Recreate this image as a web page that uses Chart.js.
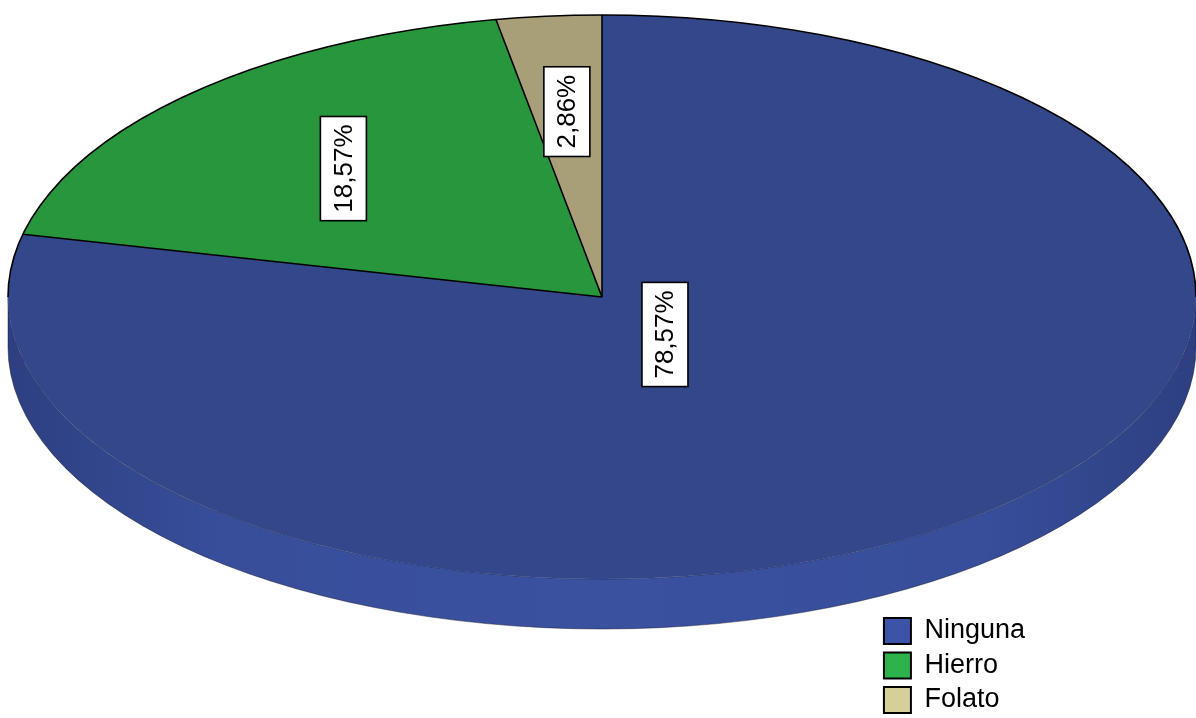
<!DOCTYPE html>
<html>
<head>
<meta charset="utf-8">
<script src="https://cdn.jsdelivr.net/npm/chart.js@4.4.1/dist/chart.umd.min.js"></script>
<style>
  html, body { margin: 0; padding: 0; background: #fff; }
  #wrap { width: 1196px; height: 718px; }
</style>
</head>
<body>
<div id="wrap"><canvas id="chart"></canvas></div>
<script>
const categories = ['Ninguna', 'Hierro', 'Folato'];
const counts = [55, 13, 2];

const topColors = ['#33478a', '#27963c', '#a89f79'];
const sideColors = ['#3a51a0', '#2aa545', '#bab08a'];
const legendColors = ['#3c54a8', '#2db34b', '#d5d09a'];

// where the flattened pie sits on the page
const PIE = { cx: 602, cy: 297, rx: 594, ry: 282, depth: 50 };
// how far out from the centre each percentage box sits (fraction of radius)
const labelRadius = [0.17, 0.63, 0.66];

const total = counts.reduce((a, b) => a + b, 0);
const percentLabels = counts.map(v => (v / total * 100).toFixed(2).replace('.', ',') + '%');

Chart.defaults.font.family = '"Liberation Sans", Arial, sans-serif';

function ellPoint(a, dy) {
    return [PIE.cx + PIE.rx * Math.cos(a), PIE.cy + (dy || 0) + PIE.ry * Math.sin(a)];
}

const pie3d = {
    id: 'pie3d',
    beforeDatasetsDraw(chart) {
        const ctx = chart.ctx;
        const meta = chart.getDatasetMeta(0);

        // side wall, only the front half (0..PI) is visible
        ctx.save();
        meta.data.forEach((arc, i) => {
            const { startAngle, endAngle } = arc.getProps(['startAngle', 'endAngle'], true);
            [-2 * Math.PI, 0, 2 * Math.PI].forEach(k => {
                const a0 = Math.max(startAngle + k, 0);
                const a1 = Math.min(endAngle + k, Math.PI);
                if (a1 <= a0) return;
                ctx.beginPath();
                ctx.ellipse(PIE.cx, PIE.cy + PIE.depth, PIE.rx, PIE.ry, 0, a0, a1);
                ctx.ellipse(PIE.cx, PIE.cy, PIE.rx, PIE.ry, 0, a1, a0, true);
                ctx.closePath();
                ctx.fillStyle = sideColors[i];
                ctx.fill();
            });
        });
        // darken the wall towards both ends
        const g = ctx.createLinearGradient(PIE.cx - PIE.rx, 0, PIE.cx + PIE.rx, 0);
        g.addColorStop(0, 'rgba(0,0,20,0.22)');
        g.addColorStop(0.18, 'rgba(0,0,20,0.04)');
        g.addColorStop(0.5, 'rgba(0,0,20,0)');
        g.addColorStop(0.82, 'rgba(0,0,20,0.04)');
        g.addColorStop(1, 'rgba(0,0,20,0.22)');
        ctx.beginPath();
        ctx.ellipse(PIE.cx, PIE.cy + PIE.depth, PIE.rx, PIE.ry, 0, 0, Math.PI);
        ctx.ellipse(PIE.cx, PIE.cy, PIE.rx, PIE.ry, 0, Math.PI, 0, true);
        ctx.closePath();
        ctx.fillStyle = g;
        ctx.fill();
        ctx.strokeStyle = 'rgba(20,20,40,0.45)';
        ctx.lineWidth = 1;
        ctx.stroke();
        ctx.restore();

        // squash the library's round pie into the top ellipse
        const { x, y, outerRadius } = meta.data[0].getProps(['x', 'y', 'outerRadius'], true);
        ctx.save();
        ctx.translate(PIE.cx, PIE.cy);
        ctx.scale(PIE.rx / outerRadius, PIE.ry / outerRadius);
        ctx.translate(-x, -y);
    },
    afterDatasetsDraw(chart) {
        const ctx = chart.ctx;
        ctx.restore();
        const meta = chart.getDatasetMeta(0);

        ctx.save();
        ctx.strokeStyle = '#000';
        ctx.lineWidth = 1.6;
        ctx.beginPath();
        ctx.ellipse(PIE.cx, PIE.cy, PIE.rx, PIE.ry, 0, Math.PI, 2 * Math.PI);
        ctx.stroke();

        meta.data.forEach(arc => {
            const { startAngle } = arc.getProps(['startAngle'], true);
            const p = ellPoint(startAngle);
            ctx.beginPath();
            ctx.moveTo(PIE.cx, PIE.cy);
            ctx.lineTo(p[0], p[1]);
            ctx.stroke();
        });

        // rotated percentage boxes
        ctx.font = '26px "Liberation Sans", Arial, sans-serif';
        ctx.textAlign = 'center';
        ctx.textBaseline = 'middle';
        meta.data.forEach((arc, i) => {
            const { startAngle, endAngle } = arc.getProps(['startAngle', 'endAngle'], true);
            const mid = (startAngle + endAngle) / 2;
            const lx = PIE.cx + PIE.rx * labelRadius[i] * Math.cos(mid);
            const ly = PIE.cy + PIE.ry * labelRadius[i] * Math.sin(mid);
            const text = percentLabels[i];
            ctx.save();
            ctx.translate(lx, ly);
            ctx.rotate(-Math.PI / 2);
            const w = ctx.measureText(text).width + 16;
            const h = 46;
            ctx.fillStyle = '#fff';
            ctx.fillRect(-w / 2, -h / 2, w, h);
            ctx.lineWidth = 1.6;
            ctx.strokeStyle = '#000';
            ctx.strokeRect(-w / 2, -h / 2, w, h);
            ctx.fillStyle = '#000';
            ctx.fillText(text, 0, 1);
            ctx.restore();
        });
        ctx.restore();
    }
};

new Chart(document.getElementById('chart'), {
    type: 'pie',
    data: {
        labels: categories,
        datasets: [{
            data: counts,
            backgroundColor: topColors,
            borderWidth: 0,
            clip: false
        }]
    },
    options: {
        responsive: true,
        maintainAspectRatio: false,
        animation: false,
        layout: { padding: { right: 161, bottom: -3 } },
        plugins: {
            legend: {
                position: 'right',
                align: 'end',
                labels: {
                    boxWidth: 27,
                    boxHeight: 26,
                    padding: 7.5,
                    color: '#000',
                    font: { size: 27 },
                    generateLabels: () => categories.map((c, i) => ({
                        text: c,
                        fillStyle: legendColors[i],
                        strokeStyle: '#000',
                        lineWidth: 2,
                        hidden: false,
                        index: i
                    }))
                }
            },
            tooltip: { enabled: false }
        }
    },
    plugins: [pie3d]
});
</script>
</body>
</html>
